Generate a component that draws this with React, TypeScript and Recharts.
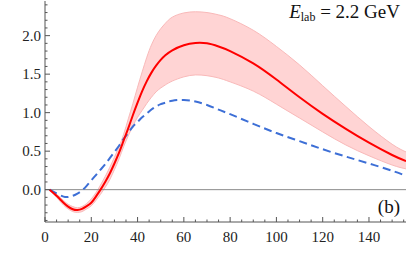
import { ComposedChart, Area, Line, XAxis, YAxis, ReferenceLine } from 'recharts'

const angle = [2, 5, 8, 10, 12, 14, 16, 18, 20, 22, 24, 26, 28, 30, 32, 34, 36, 38, 40, 42, 44, 46, 48, 50, 52, 55, 60, 65, 70, 75, 80, 90, 100, 110, 120, 130, 140, 150, 156]
const redCentral = [0, -0.08, -0.17, -0.22, -0.255, -0.265, -0.25, -0.215, -0.17, -0.09, 0, 0.1, 0.21, 0.34, 0.48, 0.64, 0.8, 0.97, 1.13, 1.28, 1.41, 1.52, 1.61, 1.685, 1.745, 1.81, 1.875, 1.905, 1.9, 1.86, 1.8, 1.64, 1.43, 1.2, 0.985, 0.79, 0.61, 0.45, 0.37]
const redUpper = [0, -0.06, -0.14, -0.19, -0.22, -0.235, -0.22, -0.18, -0.12, -0.04, 0.06, 0.17, 0.29, 0.42, 0.56, 0.72, 0.92, 1.12, 1.33, 1.53, 1.72, 1.88, 2.0, 2.09, 2.16, 2.24, 2.295, 2.31, 2.3, 2.27, 2.22, 2.07, 1.86, 1.62, 1.35, 1.08, 0.82, 0.59, 0.49]
const redLower = [0, -0.1, -0.2, -0.25, -0.285, -0.295, -0.285, -0.25, -0.21, -0.14, -0.06, 0.03, 0.13, 0.26, 0.4, 0.56, 0.7, 0.83, 0.94, 1.03, 1.12, 1.2, 1.27, 1.32, 1.36, 1.41, 1.465, 1.49, 1.48, 1.45, 1.4, 1.28, 1.11, 0.93, 0.75, 0.58, 0.44, 0.32, 0.27]
const blueDashed = [0, -0.05, -0.09, -0.095, -0.08, -0.05, -0.01, 0.05, 0.12, 0.19, 0.26, 0.33, 0.41, 0.49, 0.57, 0.66, 0.74, 0.82, 0.88, 0.94, 0.99, 1.04, 1.08, 1.11, 1.13, 1.155, 1.165, 1.145, 1.1, 1.04, 0.98, 0.855, 0.735, 0.63, 0.525, 0.43, 0.34, 0.245, 0.18]

const xTicks = [0, 5, 10, 15, 20, 25, 30, 35, 40, 45, 50, 55, 60, 65, 70, 75, 80, 85, 90, 95, 100, 105, 110, 115, 120, 125, 130, 135, 140, 145, 150, 155]
const yTicks = [-0.4, -0.3, -0.2, -0.1, 0, 0.1, 0.2, 0.3, 0.4, 0.5, 0.6, 0.7, 0.8, 0.9, 1.0, 1.1, 1.2, 1.3, 1.4, 1.5, 1.6, 1.7, 1.8, 1.9, 2.0, 2.1, 2.2, 2.3, 2.4]

const data = angle.map((a, i) => ({
  angle: a,
  red: redCentral[i],
  band: [redLower[i], redUpper[i]],
  blue: blueDashed[i],
}))

const frame = '#555'
const serif = "'Liberation Serif', 'Times New Roman', Times, serif"

const isMajorX = (v: number) => v % 20 === 0
const isMajorY = (v: number) => Math.abs(v * 2 - Math.round(v * 2)) < 1e-6

function XTick({ x, y, payload, side }: any) {
  const major = isMajorX(payload.value)
  const len = major ? 5 : 2.5
  const dir = side === 'top' ? 1 : -1
  return (
    <g>
      <line x1={x} x2={x} y1={y} y2={y + dir * len} stroke={frame} strokeWidth={1} />
      {major && side === 'bottom' && (
        <text x={x} y={y + 20} textAnchor="middle" fontFamily={serif} fontSize={15} fill="#222">
          {payload.value}
        </text>
      )}
    </g>
  )
}

function YTick({ x, y, payload, side }: any) {
  const major = isMajorY(payload.value)
  const len = major ? 5 : 2.5
  const dir = side === 'left' ? 1 : -1
  return (
    <g>
      <line x1={x} x2={x + dir * len} y1={y} y2={y} stroke={frame} strokeWidth={1} />
      {major && side === 'left' && payload.value >= 0 && (
        <text x={x - 4} y={y + 5} textAnchor="end" fontFamily={serif} fontSize={15} fill="#222">
          {payload.value.toFixed(1)}
        </text>
      )}
    </g>
  )
}

export default function App() {
  return (
    <div style={{ position: 'absolute', left: 0, top: 0, width: 407, height: 265, background: '#fff', fontFamily: serif }}>
      <ComposedChart
        width={407}
        height={265}
        data={data}
        margin={{ top: 1, right: 1, left: 0, bottom: 0 }}
        style={{ fontFamily: serif }}
      >
        <XAxis
          dataKey="angle"
          type="number"
          domain={[0, 156]}
          ticks={xTicks}
          interval={0}
          allowDataOverflow
          tickSize={0}
          tickMargin={0}
          height={43}
          stroke={frame}
          tick={<XTick side="bottom" />}
        />
        <XAxis
          xAxisId="top"
          orientation="top"
          dataKey="angle"
          type="number"
          domain={[0, 156]}
          ticks={xTicks}
          interval={0}
          allowDataOverflow
          tickSize={0}
          tickMargin={0}
          height={0}
          stroke={frame}
          tick={<XTick side="top" />}
        />
        <YAxis
          type="number"
          domain={[-0.42, 2.45]}
          ticks={yTicks}
          interval={0}
          allowDataOverflow
          tickSize={0}
          tickMargin={0}
          width={45}
          stroke={frame}
          tick={<YTick side="left" />}
        />
        <YAxis
          yAxisId="right"
          orientation="right"
          type="number"
          domain={[-0.42, 2.45]}
          ticks={yTicks}
          interval={0}
          allowDataOverflow
          tickSize={0}
          tickMargin={0}
          width={0}
          stroke={frame}
          tick={<YTick side="right" />}
        />
        <ReferenceLine y={0} stroke="#8a8a8a" strokeWidth={1} />
        <Area
          dataKey="band"
          type="natural"
          fill="#ffd4d4"
          fillOpacity={1}
          stroke="#f9b9b9"
          strokeWidth={1}
          isAnimationActive={false}
        />
        <Line dataKey="blue" type="natural" stroke="#3d6fd6" strokeWidth={2} strokeDasharray="8 4.5" dot={false} isAnimationActive={false} />
        <Line dataKey="red" type="natural" stroke="#ff0000" strokeWidth={2} dot={false} isAnimationActive={false} />
      </ComposedChart>
      <div style={{ position: 'absolute', right: 7, top: 1, fontSize: 19, color: '#111', whiteSpace: 'nowrap' }}>
        <i>E</i>
        <sub style={{ fontSize: 12, verticalAlign: '-3px' }}>lab</sub> = 2.2 GeV
      </div>
      <div style={{ position: 'absolute', right: 7, top: 196, fontSize: 19, color: '#111' }}>(b)</div>
    </div>
  )
}
